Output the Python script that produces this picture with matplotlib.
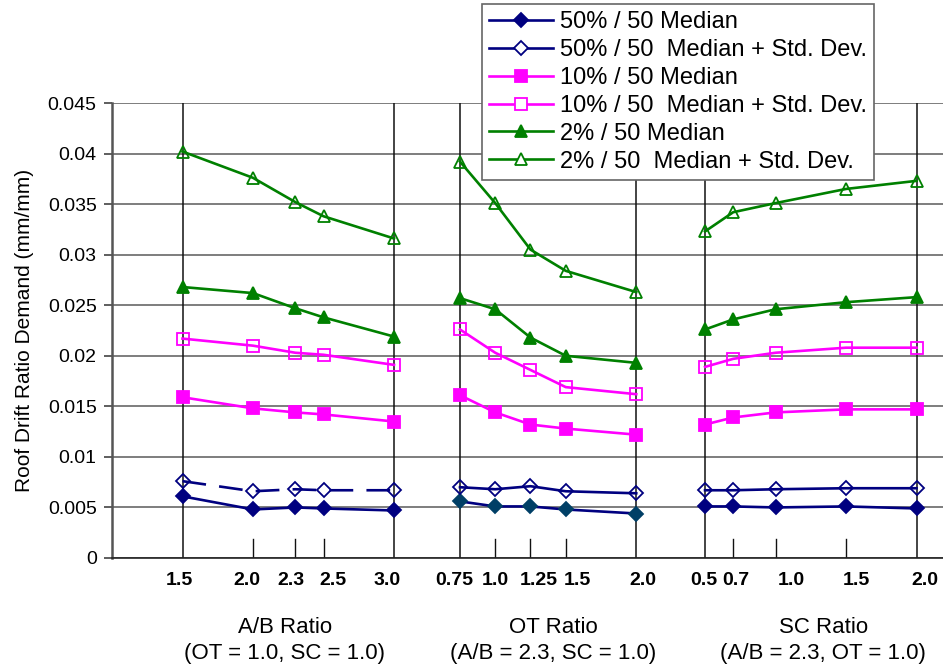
import numpy as np
import matplotlib
matplotlib.use("Agg")
import matplotlib.pyplot as plt

plt.rcParams['font.family'] = ['Liberation Sans', 'DejaVu Sans']

# parameter values for the three studies
ab_ratio = [1.5, 2.0, 2.3, 2.5, 3.0]
ot_ratio = [0.75, 1.0, 1.25, 1.5, 2.0]
sc_ratio = [0.5, 0.7, 1.0, 1.5, 2.0]
ab_labels = ['1.5', '2.0', '2.3', '2.5', '3.0']
ot_labels = ['0.75', '1.0', '1.25', '1.5', '2.0']
sc_labels = ['0.5', '0.7', '1.0', '1.5', '2.0']

# roof drift ratio demand, each list is A/B study + OT study + SC study
med_50 = [0.0061, 0.0048, 0.0050, 0.0049, 0.0047,
          0.0056, 0.0051, 0.0051, 0.0048, 0.0044,
          0.0051, 0.0051, 0.0050, 0.0051, 0.0049]
sd_50 = [0.0076, 0.0066, 0.0068, 0.0067, 0.0067,
         0.0070, 0.0068, 0.0071, 0.0066, 0.0064,
         0.0067, 0.0067, 0.0068, 0.0069, 0.0069]
med_10 = [0.0159, 0.0148, 0.0144, 0.0142, 0.0135,
          0.0161, 0.0144, 0.0132, 0.0128, 0.0122,
          0.0132, 0.0139, 0.0144, 0.0147, 0.0147]
sd_10 = [0.0217, 0.0210, 0.0203, 0.0201, 0.0191,
         0.0226, 0.0203, 0.0186, 0.0169, 0.0162,
         0.0189, 0.0197, 0.0203, 0.0208, 0.0208]
med_2 = [0.0268, 0.0262, 0.0247, 0.0238, 0.0219,
         0.0257, 0.0246, 0.0218, 0.0200, 0.0193,
         0.0226, 0.0236, 0.0246, 0.0253, 0.0258]
sd_2 = [0.0402, 0.0376, 0.0352, 0.0338, 0.0316,
        0.0392, 0.0351, 0.0305, 0.0284, 0.0263,
        0.0323, 0.0342, 0.0351, 0.0365, 0.0373]

group_titles = ['A/B Ratio\n(OT = 1.0, SC = 1.0)',
                'OT Ratio\n(A/B = 2.3, SC = 1.0)',
                'SC Ratio\n(A/B = 2.3, OT = 1.0)']

# the three studies share one x axis, each shifted along it
offsets = [-1.0, 1.718, 3.706]
groups = [ab_ratio, ot_ratio, sc_ratio]
xpos = [np.array(g) + o for g, o in zip(groups, offsets)]

# value labels sit a little off their lines so they don't run together
label_nudge = [-0.02, -0.04, -0.03, 0.07, -0.05,
               -0.04, 0.0, 0.06, 0.08, 0.05,
               -0.01, 0.02, 0.11, 0.07, 0.06]

NAVY = '#000080'
MAGENTA = '#FF00FF'
GREEN = '#008000'

series = [
    (med_50, '50% / 50 Median', NAVY, 'D', 7, True),
    (sd_50, '50% / 50  Median + Std. Dev.', NAVY, 'D', 7, False),
    (med_10, '10% / 50 Median', MAGENTA, 's', 8, True),
    (sd_10, '10% / 50  Median + Std. Dev.', MAGENTA, 's', 8, False),
    (med_2, '2% / 50 Median', GREEN, '^', 9, True),
    (sd_2, '2% / 50  Median + Std. Dev.', GREEN, '^', 9, False),
]

fig = plt.figure(figsize=(9.43, 6.70), dpi=100)
ax = fig.add_axes([112 / 943, 112 / 670, 831 / 943, 455 / 670])

handles = []
for vals, label, color, marker, ms, filled in series:
    for gi, x in enumerate(xpos):
        y = vals[gi * 5:(gi + 1) * 5]
        face = color if filled else 'none'
        mcol = color
        if label == '50% / 50 Median' and gi == 1:
            mcol = '#003f66'
            face = mcol
        style = '-'
        if label.startswith('50%') and not filled and gi == 0:
            style = (0, (9, 5))
        ax.plot(x, y, linestyle=style, color=color, lw=1.9,
                marker=marker, markersize=ms, markerfacecolor=face,
                markeredgecolor=mcol, markeredgewidth=1.3,
                clip_on=False, zorder=3)
    handles.append(ax.plot([], [], '-', color=color, lw=1.9, marker=marker,
                           markersize=ms, markerfacecolor=color if filled else 'white',
                           markeredgecolor=color, markeredgewidth=1.3,
                           label=label)[0])

ax.set_xlim(0, 831 / 141)
ax.set_ylim(0, 0.045)
ax.set_yticks(np.arange(0, 0.0451, 0.005))
ax.set_yticklabels(['0', '0.005', '0.01', '0.015', '0.02', '0.025',
                    '0.03', '0.035', '0.04', '0.045'])
ax.yaxis.grid(True, color='#5a5a5a', lw=1.1)
ax.set_axisbelow(True)

# group boundaries run full height, inner values get a short tick
for x in xpos:
    ax.axvline(x[0], color='#111111', lw=1.1, zorder=1)
    ax.axvline(x[-1], color='#111111', lw=1.1, zorder=1)
    for xi in x[1:-1]:
        ax.axvline(xi, ymax=0.042, color='#111111', lw=1.0, zorder=1)

allx = np.concatenate(xpos)
ax.set_xticks(allx + np.array(label_nudge))
ax.set_xticklabels(ab_labels + ot_labels + sc_labels, fontsize=14, fontweight='bold')
ax.tick_params(axis='x', length=0, pad=10)
ax.tick_params(axis='y', length=6, width=1.1, direction='out', pad=5,
               labelsize=14, color='#333333')

for s in ['top', 'right']:
    ax.spines[s].set_visible(False)
ax.spines['left'].set_color('#555555')
ax.spines['left'].set_linewidth(1.8)
ax.spines['bottom'].set_color('#222222')
ax.spines['bottom'].set_linewidth(1.2)

ax.set_ylabel('Roof Drift Ratio Demand (mm/mm)', fontsize=15, labelpad=10)

for xc, title in zip([0.208, 0.531, 0.856], group_titles):
    ax.text(xc, -0.13, title, transform=ax.transAxes, ha='center', va='top',
            fontsize=16, linespacing=1.3)

leg = fig.legend(handles=handles, loc='upper left',
                 bbox_to_anchor=(482 / 943, 1 - 4 / 670),
                 bbox_transform=fig.transFigure, borderaxespad=0,
                 fontsize=17, frameon=True, fancybox=False, framealpha=1,
                 edgecolor='#666666', handlelength=2.7, handletextpad=0.3,
                 labelspacing=0.25, borderpad=0.3)
leg.get_frame().set_linewidth(1.2)
leg.set_zorder(10)

fig.savefig('out.png', dpi=100)
